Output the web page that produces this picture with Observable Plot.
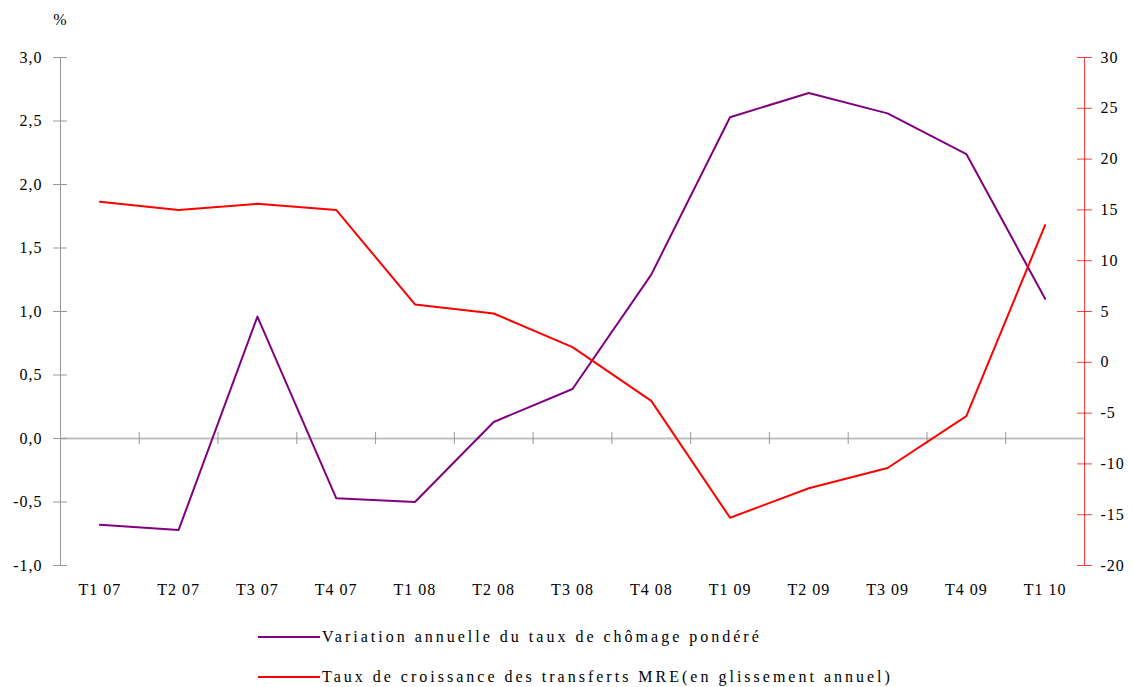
<!DOCTYPE html>
<html><head><meta charset="utf-8">
<script src="https://cdn.jsdelivr.net/npm/d3@7"></script>
<script src="https://cdn.jsdelivr.net/npm/@observablehq/plot@0.6"></script>
<style>
body{margin:0;background:#fff;font-family:"Liberation Serif",serif}
#legend{position:relative;height:72px;width:1133px}
.row{position:absolute;left:258px;display:flex;align-items:center;font-size:16px;letter-spacing:3px;color:#000;transform:translateY(-50%);white-space:nowrap}
.sw{width:62px;height:2px;margin-right:2px}
</style></head>
<body><div id="chart"></div><div id="legend"></div>
<script>
const quarters = ["T1 07","T2 07","T3 07","T4 07","T1 08","T2 08","T3 08","T4 08","T1 09","T2 09","T3 09","T4 09","T1 10"];
const chomage = [-0.68,-0.72,0.96,-0.47,-0.50,0.13,0.39,1.29,2.53,2.72,2.56,2.24,1.10];
const transferts = [15.8,15.0,15.6,15.0,5.7,4.8,1.5,-3.8,-15.3,-12.4,-10.4,-5.3,13.5];
const leftTicks = [-1,-0.5,0,0.5,1,1.5,2,2.5,3];
const rightTicks = [-20,-15,-10,-5,0,5,10,15,20,25,30];
const seriesNames = ["Variation annuelle du taux de chômage pondéré","Taux de croissance des transferts MRE(en glissement annuel)"];
const colors = ["#800080","#ff0000"];

const leftDomain = [-1,3], rightDomain = [-20,30];
const toLeft = d3.scaleLinear(rightDomain, leftDomain);
const xDomain = [-0.5, quarters.length - 0.5];
const rows = quarters.map((q,i)=>({i, q, c: chomage[i], t: toLeft(transferts[i])}));
const bounds = d3.range(quarters.length - 1).map(i => i + 0.5);

const chart = Plot.plot({
  width: 1133, height: 615,
  marginLeft: 60, marginRight: 49, marginTop: 57, marginBottom: 50,
  style: {fontFamily: "Liberation Serif", fontSize: "16px", letterSpacing: "1px", color: "#000", background: "#fff"},
  x: {domain: xDomain},
  y: {domain: leftDomain},
  marks: [
    Plot.ruleY([0], {stroke: "#c0c0c0", strokeWidth: 2}),
    Plot.ruleX(bounds, {x: d => d, y1: 0, y2: 0, insetTop: -6, insetBottom: -6, stroke: "#999"}),
    Plot.ruleX([xDomain[0]], {y1: leftDomain[0], y2: leftDomain[1], stroke: "#999"}),
    Plot.ruleY(leftTicks, {y: d => d, x1: xDomain[0], x2: xDomain[0], insetLeft: -7, insetRight: -7, stroke: "#999"}),
    Plot.axisY(leftTicks, {anchor: "left", tickSize: 0, tickPadding: 18, label: null, tickFormat: d => d.toFixed(1).replace(".", ",")}),
    Plot.ruleX([xDomain[1]], {y1: leftDomain[0], y2: leftDomain[1], stroke: "#ff0000", strokeOpacity: 0.75}),
    Plot.ruleY(rightTicks.map(toLeft), {y: d => d, x1: xDomain[1], x2: xDomain[1], insetLeft: -7, insetRight: -8, stroke: "#ff0000", strokeOpacity: 0.75}),
    Plot.axisY(rightTicks.map(toLeft), {anchor: "right", tickSize: 0, tickPadding: 16, label: null, tickFormat: d => String(Math.round(toLeft.invert(d)))}),
    Plot.axisX(d3.range(quarters.length), {anchor: "bottom", tickSize: 0, tickPadding: 18, label: null, tickFormat: i => quarters[i]}),
    Plot.lineY(rows, {x: "i", y: "c", stroke: colors[0], strokeWidth: 2}),
    Plot.lineY(rows, {x: "i", y: "t", stroke: colors[1], strokeWidth: 2}),
    Plot.text(["%"], {frameAnchor: "top-left", dx: 0, dy: -33, text: d => d, textAnchor: "middle", lineAnchor: "bottom"})
  ]
});
document.getElementById("chart").appendChild(chart);

const legend = document.getElementById("legend");
seriesNames.forEach((name, k) => {
  const row = document.createElement("div");
  row.className = "row";
  row.style.top = (22 + 40 * k) + "px";
  row.innerHTML = `<span class="sw" style="background:${colors[k]}"></span><span>${name}</span>`;
  legend.appendChild(row);
});
</script>
</body></html>
